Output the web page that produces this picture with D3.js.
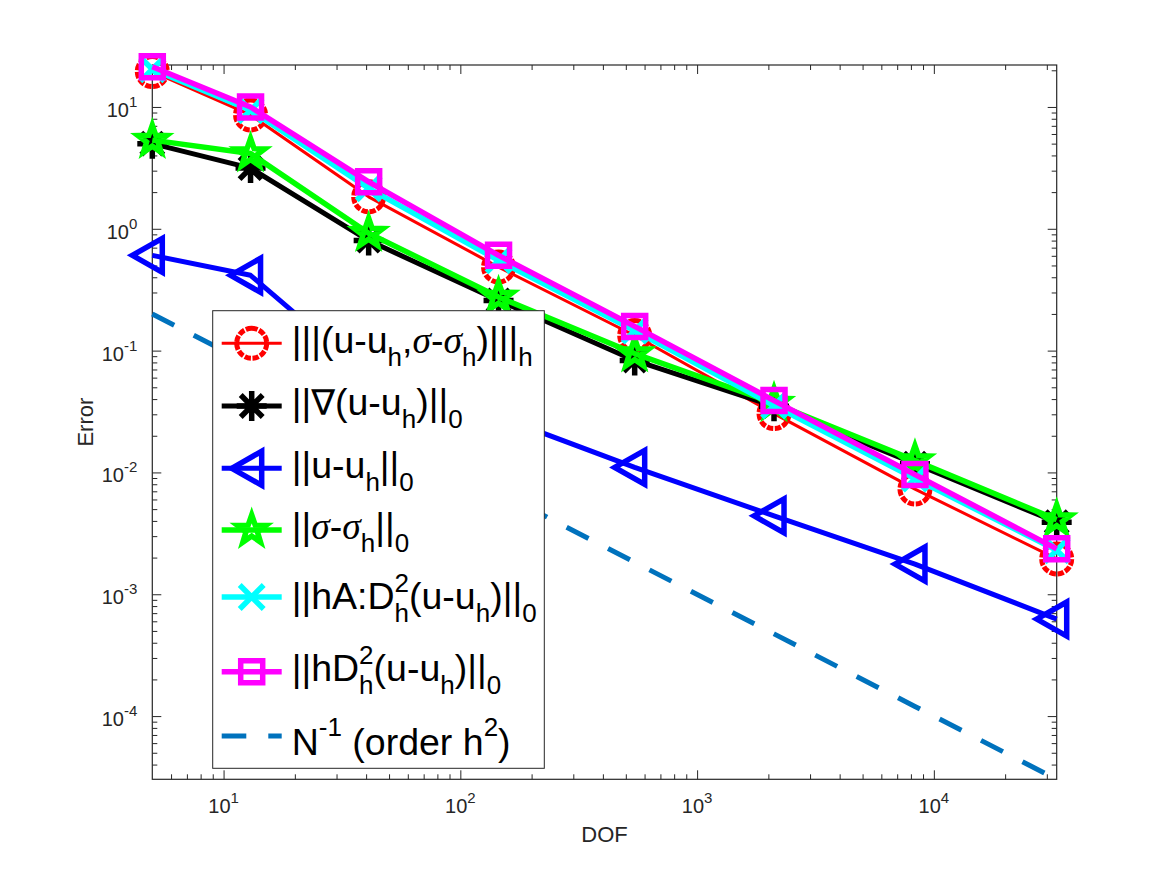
<!DOCTYPE html>
<html lang="en">
<head>
<meta charset="UTF-8" />
<title>Error vs DOF</title>
<script src="https://cdn.jsdelivr.net/npm/d3@7"></script>
<style>
  body { margin: 0; background: #fff; }
  svg { display: block; }
</style>
</head>
<body>
<div id="chart"></div>
<script>
// ---------------------------------------------------------------------------
// data
// ---------------------------------------------------------------------------
var dof = [5, 13, 41, 145, 545, 2113, 8321, 33025];

var errEnergy = [19.5, 8.6, 1.83, 0.485, 0.133, 0.0304, 0.0073, 0.00195];
var errGrad = [5.0, 3.15, 0.8, 0.258, 0.083, 0.035, 0.0118, 0.0039];
var errL2 = [0.605, 0.415, 0.0615, 0.0288, 0.011, 0.0044, 0.00177, 0.000626];
var errSigma = [5.34, 4.15, 0.92, 0.275, 0.0946, 0.037, 0.0125, 0.0041];
var errHAD2 = [20.4, 9.4, 2.15, 0.55, 0.146, 0.0354, 0.0089, 0.0023];
var errHD2 = [21.4, 10.0, 2.43, 0.605, 0.158, 0.0389, 0.0096, 0.00236];
var refLine = [0.2, 0.0769, 0.0244, 0.0069, 0.00183, 0.000473, 0.00012, 0.0000303];

var xTicks = [10, 100, 1000, 10000];
var xTickExp = ["1", "2", "3", "4"];
var yTicks = [1e-4, 1e-3, 1e-2, 1e-1, 1, 10];
var yTickExp = ["-4", "-3", "-2", "-1", "0", "1"];

// legend labels: [text, kind]  kind: n | sub | sup | sig | nab | supsub(text, sub)
var labEnergy = [["|||(u-u"], ["h", "sub"], [","], ["\u03C3", "sig"], ["-"], ["\u03C3", "sig"], ["h", "sub"], [")|||"], ["h", "sub"]];
var labGrad = [["||"], ["\u2207", "nab"], ["(u-u"], ["h", "sub"], [")||"], ["0", "sub"]];
var labL2 = [["||u-u"], ["h", "sub"], ["||"], ["0", "sub"]];
var labSigma = [["||"], ["\u03C3", "sig"], ["-"], ["\u03C3", "sig"], ["h", "sub"], ["||"], ["0", "sub"]];
var labHAD2 = [["||hA:D"], ["2", "supsub", "h"], ["(u-u"], ["h", "sub"], [")||"], ["0", "sub"]];
var labHD2 = [["||hD"], ["2", "supsub", "h"], ["(u-u"], ["h", "sub"], [")||"], ["0", "sub"]];
var labRef = [["N"], ["-1", "sup"], [" (order h"], ["2", "sup"], [")"]];

// ---------------------------------------------------------------------------
// svg + scales
// ---------------------------------------------------------------------------
var W = 1167, H = 875;
var box = { left: 152.3, right: 1056.7, top: 65, bottom: 779.3 };
var axisColor = "#262626";

var svg = d3.select("#chart").append("svg")
  .attr("width", W).attr("height", H)
  .style("font-family", "'Liberation Sans', Arial, sans-serif");

svg.append("rect").attr("width", W).attr("height", H).attr("fill", "#fff");

var x = d3.scaleLog().domain([5, 33025]).range([box.left, box.right]);
var y = d3.scaleLog().domain([3.028e-5, 22.1]).range([box.bottom, box.top]);

// minor ticks (2..9 per decade) inside the domain
function minors(scale) {
  var d = scale.domain(), out = [];
  for (var e = Math.floor(Math.log10(d[0])); e <= Math.ceil(Math.log10(d[1])); e++) {
    for (var m = 2; m <= 9; m++) {
      var v = m * Math.pow(10, e);
      if (v > d[0] * 1.0001 && v < d[1] * 0.9999) out.push(v);
    }
  }
  return out;
}

///////////////////////////////////////////////////////////////////////////
/////////////////////////////// Axes //////////////////////////////////////
///////////////////////////////////////////////////////////////////////////

function styleAxis(g) {
  g.select(".domain").remove();
  g.selectAll("line").attr("stroke", axisColor).attr("stroke-width", 1);
  g.selectAll("text").remove();
}

var axes = svg.append("g");
// bottom / top
axes.append("g").attr("transform", "translate(0," + box.bottom + ")")
  .call(d3.axisBottom(x).tickValues(xTicks).tickSizeInner(-9).tickSizeOuter(0)).call(styleAxis);
axes.append("g").attr("transform", "translate(0," + box.bottom + ")")
  .call(d3.axisBottom(x).tickValues(minors(x)).tickSizeInner(-5).tickSizeOuter(0)).call(styleAxis);
axes.append("g").attr("transform", "translate(0," + box.top + ")")
  .call(d3.axisTop(x).tickValues(xTicks).tickSizeInner(-9).tickSizeOuter(0)).call(styleAxis);
axes.append("g").attr("transform", "translate(0," + box.top + ")")
  .call(d3.axisTop(x).tickValues(minors(x)).tickSizeInner(-5).tickSizeOuter(0)).call(styleAxis);
// left / right
axes.append("g").attr("transform", "translate(" + box.left + ",0)")
  .call(d3.axisLeft(y).tickValues(yTicks).tickSizeInner(-9).tickSizeOuter(0)).call(styleAxis);
axes.append("g").attr("transform", "translate(" + box.left + ",0)")
  .call(d3.axisLeft(y).tickValues(minors(y)).tickSizeInner(-5).tickSizeOuter(0)).call(styleAxis);
axes.append("g").attr("transform", "translate(" + box.right + ",0)")
  .call(d3.axisRight(y).tickValues(yTicks).tickSizeInner(-9).tickSizeOuter(0)).call(styleAxis);
axes.append("g").attr("transform", "translate(" + box.right + ",0)")
  .call(d3.axisRight(y).tickValues(minors(y)).tickSizeInner(-5).tickSizeOuter(0)).call(styleAxis);

axes.append("rect")
  .attr("x", box.left).attr("y", box.top)
  .attr("width", box.right - box.left).attr("height", box.bottom - box.top)
  .attr("fill", "none").attr("stroke", axisColor).attr("stroke-width", 1.2);

// tick labels 10^n
xTicks.forEach(function(v, i) {
  var t = axes.append("text")
    .attr("x", x(v)).attr("y", box.bottom + 34)
    .attr("text-anchor", "middle").attr("font-size", 20).attr("fill", axisColor);
  t.append("tspan").text("10");
  t.append("tspan").attr("dy", -10).attr("font-size", 15).text(xTickExp[i]);
});
yTicks.forEach(function(v, i) {
  var t = axes.append("text")
    .attr("x", box.left - 15).attr("y", y(v) + 10)
    .attr("text-anchor", "end").attr("font-size", 20).attr("fill", axisColor);
  t.append("tspan").text("10");
  t.append("tspan").attr("dy", -10).attr("font-size", 15).text(yTickExp[i]);
});

axes.append("text")
  .attr("x", (box.left + box.right) / 2).attr("y", 841.7)
  .attr("text-anchor", "middle").attr("font-size", 22).attr("fill", axisColor)
  .text("DOF");
axes.append("text")
  .attr("transform", "translate(93," + (box.top + box.bottom) / 2 + ") rotate(-90)")
  .attr("text-anchor", "middle").attr("font-size", 22).attr("fill", axisColor)
  .text("Error");

///////////////////////////////////////////////////////////////////////////
////////////////////////////// Markers ////////////////////////////////////
///////////////////////////////////////////////////////////////////////////

function pentagram(R, r) {
  var p = [];
  for (var k = 0; k < 10; k++) {
    var a = (-90 + 36 * k) * Math.PI / 180, rr = k % 2 ? r : R;
    p.push([rr * Math.cos(a), rr * Math.sin(a)]);
  }
  return "M" + p.join("L") + "Z";
}

var markerPaths = {
  circle: d3.arc()({ innerRadius: 15, outerRadius: 15, startAngle: 0, endAngle: 2 * Math.PI }),
  asterisk: "M-15,0H15M0,-15V15M-11,-11L11,11M-11,11L11,-11",
  triangle: "M-20,0L10,-17L10,17Z",
  pentagram: pentagram(15, 6),
  cross: "M-12,-12L12,12M-12,12L12,-12",
  square: "M-11,-11H11V11H-11Z"
};

function drawMarker(g, s) {
  if (!s.marker) return;
  g.append("path")
    .attr("d", markerPaths[s.marker])
    .attr("fill", "none")
    .attr("stroke", s.color)
    .attr("stroke-width", s.mwidth)
    .attr("stroke-dasharray", s.marker === "circle" ? "6 2" : null)
    .attr("stroke-linejoin", "miter");
}

///////////////////////////////////////////////////////////////////////////
////////////////////////////// Series /////////////////////////////////////
///////////////////////////////////////////////////////////////////////////

var series = [
  { values: errEnergy, color: "#ff0000", width: 3, mwidth: 5, marker: "circle", label: labEnergy },
  { values: errGrad, color: "#000000", width: 5, mwidth: 5.5, marker: "asterisk", label: labGrad },
  { values: errL2, color: "#0000ff", width: 5, mwidth: 5.5, marker: "triangle", label: labL2 },
  { values: errSigma, color: "#00ff00", width: 5.5, mwidth: 5.5, marker: "pentagram", label: labSigma },
  { values: errHAD2, color: "#00ffff", width: 5.5, mwidth: 5.5, marker: "cross", label: labHAD2 },
  { values: errHD2, color: "#ff00ff", width: 5.5, mwidth: 5.5, marker: "square", label: labHD2 },
  { values: refLine, color: "#0072bd", width: 5, dash: "24.6 22", label: labRef }
];

var line = d3.line()
  .x(function(d) { return x(d[0]); })
  .y(function(d) { return y(d[1]); });

var plot = svg.append("g");
series.forEach(function(s) {
  var pts = dof.map(function(v, i) { return [v, s.values[i]]; });
  plot.append("path")
    .attr("d", line(pts))
    .attr("fill", "none")
    .attr("stroke", s.color)
    .attr("stroke-width", s.width)
    .attr("stroke-dasharray", s.dash || null)
    .attr("stroke-linejoin", "round");
  if (s.marker) {
    pts.forEach(function(p) {
      var g = plot.append("g").attr("transform", "translate(" + x(p[0]) + "," + y(p[1]) + ")");
      drawMarker(g, s);
    });
  }
});

///////////////////////////////////////////////////////////////////////////
////////////////////////////// Legend /////////////////////////////////////
///////////////////////////////////////////////////////////////////////////

var leg = { x0: 212.7, y0: 310.7, x1: 544.3, y1: 768.3 };
var rowLine = [343.3, 406, 468.3, 530, 597, 671.7, 736];
var rowBase = [353, 415, 477.7, 538.5, 609, 681, 755];
var mainSize = 37.5, subSize = 26, subShift = 13, supShift = 19;

var legend = svg.append("g");
legend.append("rect")
  .attr("x", leg.x0).attr("y", leg.y0)
  .attr("width", leg.x1 - leg.x0).attr("height", leg.y1 - leg.y0)
  .attr("fill", "#fff").attr("stroke", axisColor).attr("stroke-width", 1);

function appendSeg(g, txt, px, py, size, kind) {
  var t = g.append("text").attr("x", px).attr("y", py)
    .attr("font-size", size).attr("fill", "#000")
    .style("white-space", "pre")
    .text(txt);
  if (kind === "sig") t.attr("font-family", "'Liberation Serif', serif").attr("font-style", "italic");
  if (kind === "nab") t.attr("font-family", "'DejaVu Sans', sans-serif").attr("font-size", size * 0.95);
  return t.node().getComputedTextLength();
}

function drawLabel(g, segs, x0, base) {
  var cx = x0;
  segs.forEach(function(s) {
    var kind = s[1] || "n";
    if (kind === "sub") {
      cx += appendSeg(g, s[0], cx, base + subShift, subSize, "n");
    } else if (kind === "sup") {
      cx += appendSeg(g, s[0], cx, base - supShift, subSize, "n");
    } else if (kind === "supsub") {
      var a = appendSeg(g, s[0], cx, base - supShift + 2, subSize, "n");
      var b = appendSeg(g, s[2], cx, base + subShift, subSize, "n");
      cx += Math.max(a, b);
    } else {
      cx += appendSeg(g, s[0], cx, base, mainSize, kind);
    }
  });
}

series.forEach(function(s, i) {
  var g = legend.append("g");
  g.append("line")
    .attr("x1", 221.7).attr("x2", 281.7)
    .attr("y1", rowLine[i]).attr("y2", rowLine[i])
    .attr("stroke", s.color).attr("stroke-width", s.width)
    .attr("stroke-dasharray", s.dash || null);
  if (s.marker) {
    drawMarker(g.append("g").attr("transform", "translate(251.7," + rowLine[i] + ")"), s);
  }
  drawLabel(g, s.label, 291.7, rowBase[i]);
});
</script>
</body>
</html>
